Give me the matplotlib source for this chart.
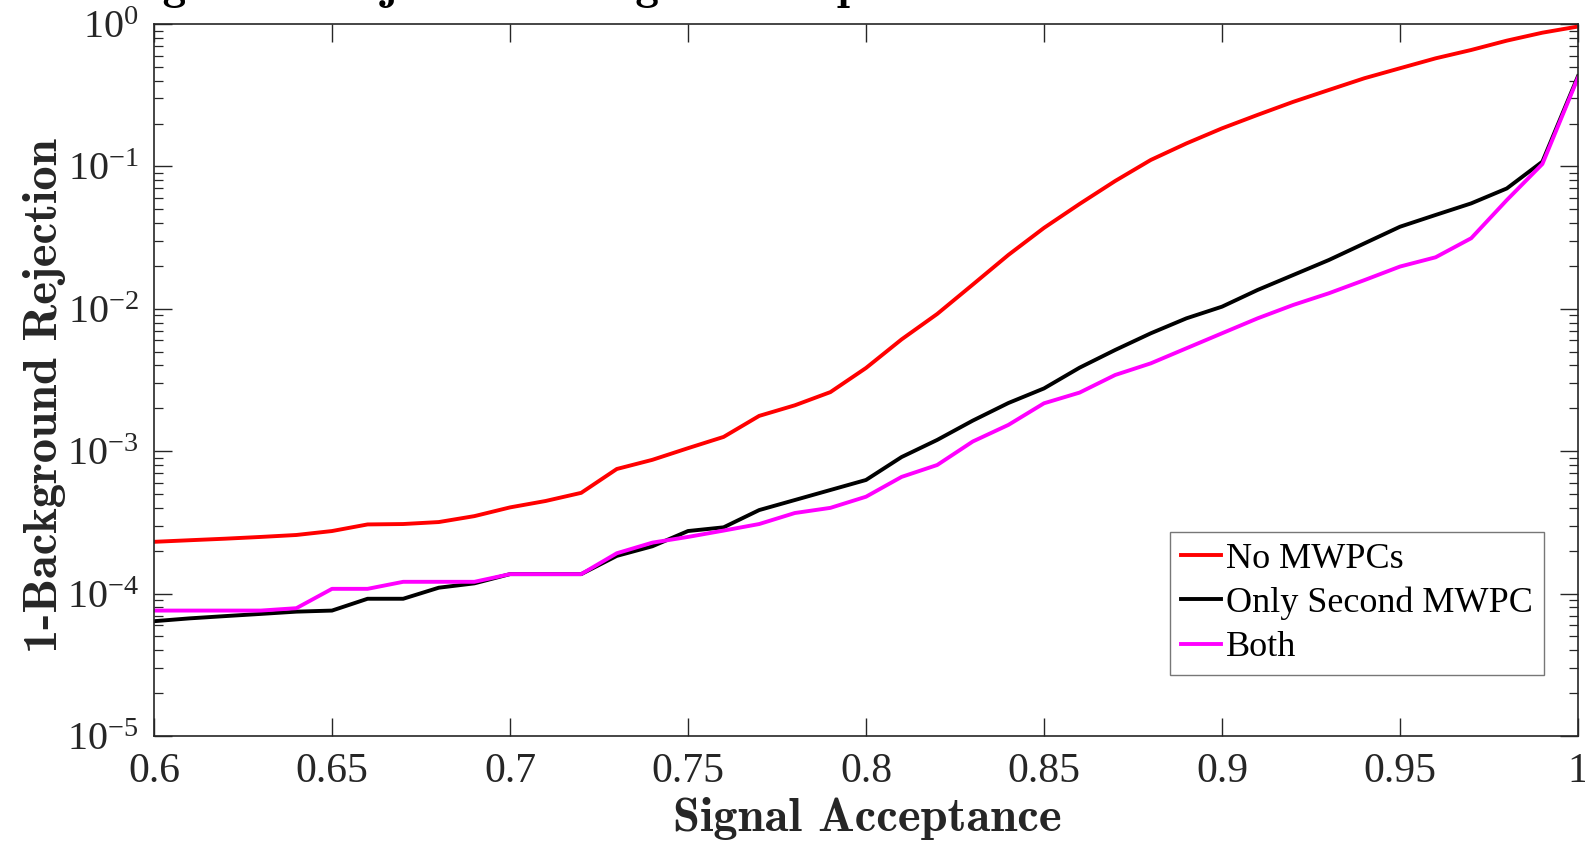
import numpy as np
import matplotlib
matplotlib.use("Agg")
import matplotlib.pyplot as plt
from matplotlib.ticker import FixedLocator, FixedFormatter, LogLocator, NullFormatter

# ---- data ----
acceptance = [0.60, 0.61, 0.62, 0.63, 0.64, 0.65, 0.66, 0.67, 0.68, 0.69,
              0.70, 0.71, 0.72, 0.73, 0.74, 0.75, 0.76, 0.77, 0.78, 0.79,
              0.80, 0.81, 0.82, 0.83, 0.84, 0.85, 0.86, 0.87, 0.88, 0.89,
              0.90, 0.91, 0.92, 0.93, 0.94, 0.95, 0.96, 0.97, 0.98, 0.99, 1.00]

no_mwpcs = [2.31e-4, 2.37e-4, 2.43e-4, 2.50e-4, 2.58e-4, 2.75e-4, 3.06e-4, 3.08e-4, 3.18e-4, 3.50e-4,
            4.03e-4, 4.47e-4, 5.10e-4, 7.5e-4, 8.7e-4, 1.05e-3, 1.26e-3, 1.77e-3, 2.1e-3, 2.6e-3,
            3.84e-3, 6.1e-3, 9.2e-3, 1.48e-2, 2.39e-2, 3.7e-2, 5.45e-2, 7.9e-2, 0.111, 0.145,
            0.185, 0.23, 0.284, 0.344, 0.416, 0.489, 0.574, 0.657, 0.764, 0.869, 0.96]

only_second = [6.4e-5, 6.7e-5, 6.95e-5, 7.2e-5, 7.47e-5, 7.6e-5, 9.2e-5, 9.2e-5, 1.1e-4, 1.18e-4,
               1.37e-4, 1.37e-4, 1.37e-4, 1.84e-4, 2.15e-4, 2.75e-4, 2.92e-4, 3.86e-4, 4.54e-4, 5.34e-4,
               6.28e-4, 9.1e-4, 1.2e-3, 1.64e-3, 2.18e-3, 2.76e-3, 3.86e-3, 5.14e-3, 6.73e-3, 8.57e-3,
               1.035e-2, 1.356e-2, 1.727e-2, 2.2e-2, 2.88e-2, 3.77e-2, 4.56e-2, 5.5e-2, 7.0e-2, 0.108, 0.43]

both = [7.6e-5, 7.6e-5, 7.6e-5, 7.6e-5, 7.9e-5, 1.08e-4, 1.08e-4, 1.21e-4, 1.21e-4, 1.21e-4,
        1.37e-4, 1.37e-4, 1.37e-4, 1.92e-4, 2.28e-4, 2.5e-4, 2.77e-4, 3.08e-4, 3.68e-4, 4.0e-4,
        4.79e-4, 6.6e-4, 8.0e-4, 1.17e-3, 1.53e-3, 2.17e-3, 2.58e-3, 3.43e-3, 4.14e-3, 5.28e-3,
        6.73e-3, 8.57e-3, 1.064e-2, 1.285e-2, 1.59e-2, 1.98e-2, 2.3e-2, 3.13e-2, 5.8e-2, 0.104, 0.42]

series_labels = ["No MWPCs", "Only Second MWPC", "Both"]
series_colors = ["#FF0000", "#000000", "#FF00FF"]

x_ticks = [0.6, 0.65, 0.7, 0.75, 0.8, 0.85, 0.9, 0.95, 1.0]
x_tick_labels = ["0.6", "0.65", "0.7", "0.75", "0.8", "0.85", "0.9", "0.95", "1"]
y_ticks = [1e-5, 1e-4, 1e-3, 1e-2, 1e-1, 1e0]
y_tick_labels = [r"$\mathregular{10^{-5}}$", r"$\mathregular{10^{-4}}$", r"$\mathregular{10^{-3}}$",
                 r"$\mathregular{10^{-2}}$", r"$\mathregular{10^{-1}}$", r"$\mathregular{10^{0}}$"]

title_text = "Background Rejection vs Signal Acceptance"
xlabel_text = "Signal Acceptance"
ylabel_text = "1-Background Rejection"

# ---- style ----
plt.rcParams["font.family"] = ["Liberation Serif", "DejaVu Serif"]
plt.rcParams["mathtext.fontset"] = "custom"
plt.rcParams["mathtext.rm"] = "Liberation Serif"
axcol = "#262626"
bold_family = ["cmb10", "Liberation Serif"]

fig = plt.figure(figsize=(15.85, 8.47), dpi=100)
ax = fig.add_axes([154/1585, 1 - 736/847, (1578 - 154)/1585, (736 - 24)/847])

for vals, lab, col in zip([no_mwpcs, only_second, both], series_labels, series_colors):
    ax.plot(acceptance, vals, color=col, lw=2.8, label=lab, solid_joinstyle="round")

ax.set_yscale("log")
ax.set_xlim(0.6, 1.0)
ax.set_ylim(1e-5, 1e0)

ax.xaxis.set_major_locator(FixedLocator(x_ticks))
ax.xaxis.set_major_formatter(FixedFormatter(x_tick_labels))
ax.yaxis.set_major_locator(FixedLocator(y_ticks))
ax.yaxis.set_major_formatter(FixedFormatter(y_tick_labels))
ax.yaxis.set_minor_locator(LogLocator(base=10, subs=np.arange(2, 10)))
ax.yaxis.set_minor_formatter(NullFormatter())

ax.tick_params(axis="both", which="major", direction="in", length=13, width=1.0,
               top=True, right=True, colors=axcol, labelcolor="#262626")
ax.tick_params(axis="x", which="major", labelsize=30, pad=12)
ax.tick_params(axis="y", which="major", labelsize=29, pad=11)
ax.tick_params(axis="y", which="minor", direction="in", length=6.5, width=0.9,
               left=True, right=True, colors=axcol)
for s in ax.spines.values():
    s.set_color(axcol)
    s.set_linewidth(1.2)

ax.set_xlabel(xlabel_text, fontsize=35, family=bold_family, color="#262626")
ax.set_ylabel(ylabel_text, fontsize=35, family=bold_family, color="#262626")
ax.xaxis.set_label_coords(0.5007, -0.0860)
ax.yaxis.set_label_coords(-0.0620, 0.478)

fig.text(60/1585, 1 + 1/847, title_text, fontsize=34, family=bold_family,
         ha="left", va="baseline", color="#000000")

leg = ax.legend(loc="lower right", bbox_to_anchor=(1544/1585, 1 - 675/847),
                bbox_transform=fig.transFigure, fontsize=26, frameon=True, fancybox=False,
                handlelength=1.1, handletextpad=0.15, borderpad=0.3, labelspacing=0.3,
                borderaxespad=0)
leg.get_frame().set_edgecolor("#555555")
leg.get_frame().set_linewidth(1.0)
for line in leg.get_lines():
    line.set_linewidth(2.8)

fig.savefig("out.png", dpi=100)
